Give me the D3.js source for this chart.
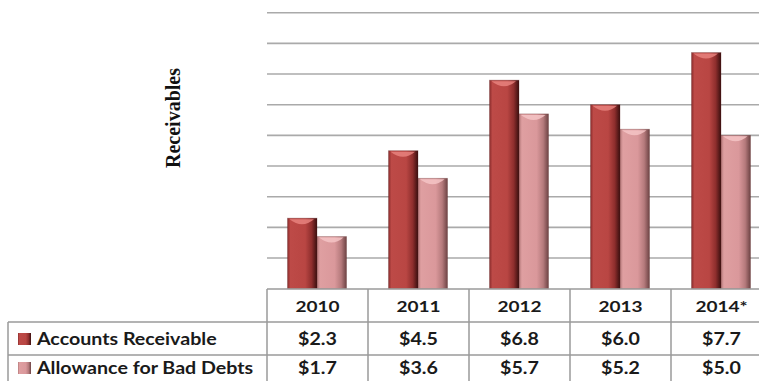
<!DOCTYPE html>
<html><head><meta charset="utf-8">
<script src="https://cdn.jsdelivr.net/npm/d3@7"></script>
<style>html,body{margin:0;padding:0;background:#fff;}svg{display:block;}</style>
</head><body>
<script>
const years = ["2010","2011","2012","2013","2014*"];
const seriesNames = ["Accounts Receivable","Allowance for Bad Debts"];
const accountsReceivable = [2.3,4.5,6.8,6.0,7.7];
const allowanceBadDebts = [1.7,3.6,5.7,5.2,5.0];
const valueLabels = [["$2.3","$4.5","$6.8","$6.0","$7.7"],["$1.7","$3.6","$5.7","$5.2","$5.0"]];
const yTicks = [1,2,3,4,5,6,7,8,9];

const W=759,H=381;
const svg=d3.select("body").append("svg").attr("width",W).attr("height",H);
const defs=svg.append("defs");
const pal=[
 {stops:[["0%","#8a2c2c"],["10%","#bd4a47"],["60%","#b94643"],["82%","#8e2e2d"],["100%","#3a0f0f"]],top:"#e8827e"},
 {stops:[["0%","#b27778"],["10%","#df9fa1"],["60%","#da989b"],["82%","#b57a7c"],["100%","#6d4344"]],top:"#f5c4c5"}
];
pal.forEach((p,i)=>{
  const g=defs.append("linearGradient").attr("id","g"+i).attr("x1","0%").attr("x2","100%").attr("y1","0%").attr("y2","0%");
  p.stops.forEach(s=>g.append("stop").attr("offset",s[0]).attr("stop-color",s[1]));
});

const x=d3.scaleBand().domain(years).range([267,772]);
const xs=d3.scaleBand().domain([0,1]).range([20.5,79.5]);
const y=d3.scaleLinear().domain([0,9]).range([288.7,12.7]);

// gridlines
svg.append("g").selectAll("line").data(yTicks).join("line")
  .attr("x1",267).attr("x2",W).attr("y1",d=>y(d)).attr("y2",d=>y(d))
  .attr("stroke","#aaaaaa").attr("stroke-width",1.6);

// y label
svg.append("text").attr("transform","translate(180,118) rotate(-90)")
  .attr("text-anchor","middle").attr("font-family","'Liberation Serif','Times New Roman',serif")
  .attr("font-weight","bold").attr("font-size",20).attr("fill","#111").text("Receivables");

const series=[accountsReceivable,allowanceBadDebts];
const bars=svg.append("g");
series.forEach((vals,si)=>{
  vals.forEach((v,i)=>{
    const bx=x(years[i])+xs(si), bw=xs.bandwidth(), by=y(v), bh=y(0)-y(v);
    bars.append("rect").attr("x",bx).attr("y",by).attr("width",bw).attr("height",bh)
      .attr("fill","url(#g"+si+")").attr("stroke","#5a2020").attr("stroke-opacity",0.35).attr("stroke-width",0.8);
    const m=bx+bw/2;
    bars.append("path")
      .attr("d",`M${bx+2},${by+1} Q${m},${by+11} ${bx+bw-3},${by+1} Z`)
      .attr("fill",pal[si].top).attr("opacity",0.85);
  });
});

// table
const grid="#9a9a9a";
const tg=svg.append("g");
const rowY=[289,322,355,381];
tg.append("line").attr("x1",267).attr("x2",W).attr("y1",rowY[0]).attr("y2",rowY[0]).attr("stroke",grid).attr("stroke-width",1.5);
tg.append("line").attr("x1",8).attr("x2",W).attr("y1",rowY[1]).attr("y2",rowY[1]).attr("stroke",grid).attr("stroke-width",1.5);
tg.append("line").attr("x1",8).attr("x2",W).attr("y1",rowY[2]).attr("y2",rowY[2]).attr("stroke",grid).attr("stroke-width",1.5);
tg.append("line").attr("x1",8).attr("x2",8).attr("y1",rowY[1]).attr("y2",H).attr("stroke",grid).attr("stroke-width",1.5);
years.forEach(yr=>{
  tg.append("line").attr("x1",x(yr)).attr("x2",x(yr)).attr("y1",rowY[0]).attr("y2",H).attr("stroke",grid).attr("stroke-width",1.5);
});
const font="Lato,'Open Sans',sans-serif";
const SX=1.19;
function txt(px,py,s,anchor,size){
  tg.append("text").attr("transform",`translate(${px},${py}) scale(${SX},1)`)
    .attr("dy","0.36em").attr("text-anchor",anchor).attr("font-family",font)
    .attr("font-weight","bold").attr("font-size",size).attr("fill","#1a1a1a").text(s);
}
years.forEach(yr=>txt(x(yr)+x.bandwidth()/2,306,yr,"middle",16));
const rowC=[339,368];
valueLabels.forEach((labs,si)=>{
  labs.forEach((l,i)=>txt(x(years[i])+x.bandwidth()/2,rowC[si],l,"middle",16.5));
  tg.append("rect").attr("x",18).attr("y",rowC[si]-6).attr("width",13).attr("height",12).attr("fill","url(#g"+si+")");
  txt(37,rowC[si],seriesNames[si],"start",16.5);
});
</script>
</body></html>
